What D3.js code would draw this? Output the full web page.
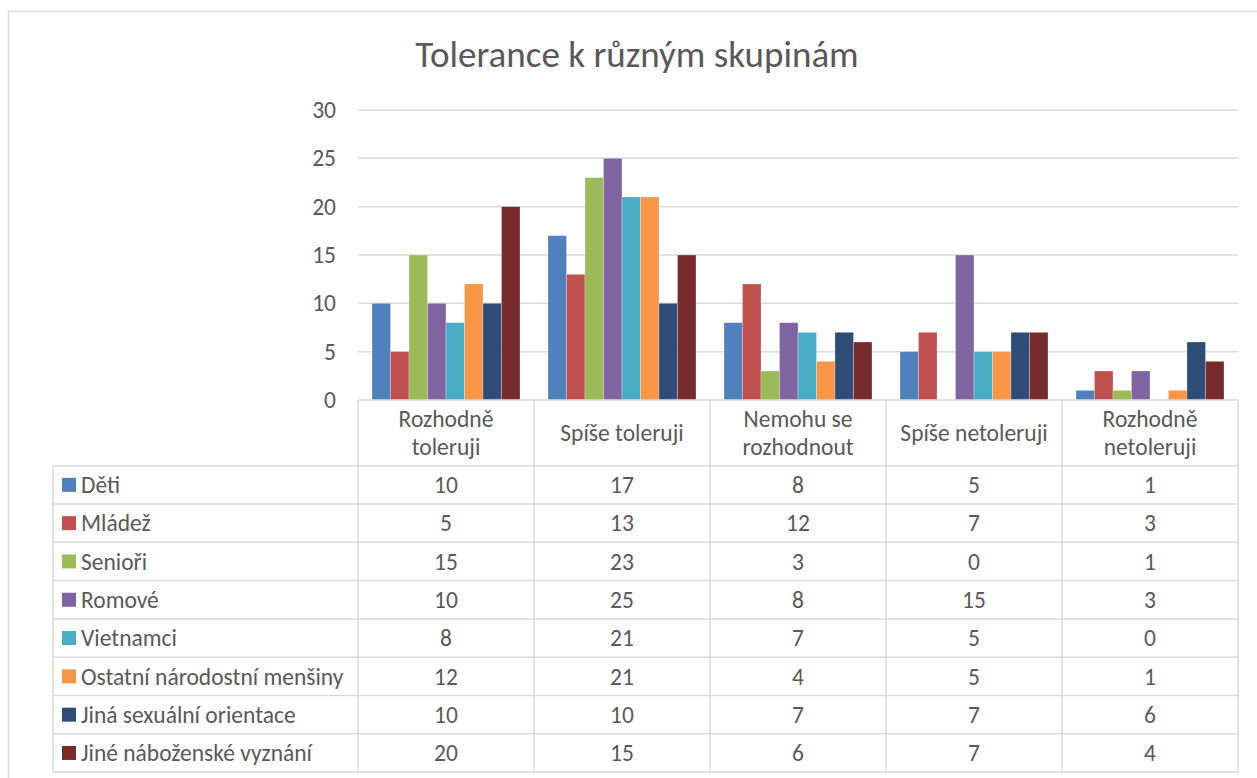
<!DOCTYPE html>
<html>
<head>
<meta charset="utf-8">
<script src="https://cdn.jsdelivr.net/npm/d3@7"></script>
<style>
  html, body { margin: 0; padding: 0; background: #fff; }
  svg { display: block; }
  text { font-family: Carlito, Calibri, Lato, "Noto Sans", sans-serif; fill: #595959; }
</style>
</head>
<body>
<script>
// Answer categories (x axis / table columns)
const categories = ["Rozhodně toleruji", "Spíše toleruji", "Nemohu se rozhodnout", "Spíše netoleruji", "Rozhodně netoleruji"];
// Header labels split into lines as drawn in the table header
const categoryLines = [["Rozhodně", "toleruji"], ["Spíše toleruji"], ["Nemohu se", "rozhodnout"], ["Spíše netoleruji"], ["Rozhodně", "netoleruji"]];

// Groups asked about (series)
const seriesNames = ["Děti", "Mládež", "Senioři", "Romové", "Vietnamci", "Ostatní národostní menšiny", "Jiná sexuální orientace", "Jiné náboženské vyznání"];

// Counts per group, one value per category
const deti       = [10, 17, 8, 5, 1];
const mladez     = [5, 13, 12, 7, 3];
const seniori    = [15, 23, 3, 0, 1];
const romove     = [10, 25, 8, 15, 3];
const vietnamci  = [8, 21, 7, 5, 0];
const ostatni    = [12, 21, 4, 5, 1];
const sexualni   = [10, 10, 7, 7, 6];
const nabozenske = [20, 15, 6, 7, 4];
const seriesValues = [deti, mladez, seniori, romove, vietnamci, ostatni, sexualni, nabozenske];

const yTicks = [0, 5, 10, 15, 20, 25, 30];
const colors = ["#4F81BD", "#C0504D", "#9BBB59", "#8064A2", "#4BACC6", "#F79646", "#2C4D75", "#772C2A"];
const titleText = "Tolerance k různým skupinám";

const W = 1257, H = 778;
const gridColor = "#d9d9d9";
const bodySize = "23.5px";

const svg = d3.select("body").append("svg").attr("width", W).attr("height", H);

// chart frame
svg.append("rect").attr("x", 8.5).attr("y", 11.5).attr("width", W + 20).attr("height", H + 20)
  .attr("fill", "none").attr("stroke", gridColor).attr("stroke-width", 1.5);

// title
svg.append("text").attr("x", 637).attr("y", 67).attr("text-anchor", "middle")
  .style("font-size", "37px").text(titleText);

const plotLeft = 358, plotRight = 1238, plotTop = 110, plotBottom = 400;

const x = d3.scaleBand().domain(categories).range([plotLeft, plotRight]).paddingInner(0).paddingOuter(0);
const xs = d3.scaleBand().domain(seriesNames).range([0, x.bandwidth()]).paddingInner(0).paddingOuter(0.757);
const y = d3.scaleLinear().domain([0, 30]).range([plotBottom, plotTop]);

// gridlines
svg.append("g").selectAll("line").data(yTicks.filter(t => t > 0)).join("line")
  .attr("x1", plotLeft).attr("x2", plotRight)
  .attr("y1", d => y(d)).attr("y2", d => y(d))
  .attr("stroke", gridColor).attr("stroke-width", 1.5);

// y axis labels
const yAxis = d3.axisLeft(y).tickValues(yTicks).tickSize(0).tickPadding(22);
const gy = svg.append("g").attr("transform", `translate(${plotLeft},0)`).call(yAxis);
gy.select(".domain").remove();
gy.selectAll("text").style("font-size", bodySize).attr("fill", "#595959")
  .style("font-family", "Carlito, Calibri, Lato, sans-serif");

// bars
const groups = svg.append("g").selectAll("g").data(categories).join("g")
  .attr("transform", d => `translate(${x(d)},0)`);
groups.selectAll("rect").data((c, ci) => seriesNames.map((s, si) => ({ s, si, v: seriesValues[si][ci] })))
  .join("rect")
  .attr("x", d => xs(d.s)).attr("width", xs.bandwidth())
  .attr("y", d => y(d.v)).attr("height", d => y(0) - y(d.v))
  .attr("fill", d => colors[d.si])
  .attr("stroke", "#ffffff").attr("stroke-opacity", 0.35).attr("stroke-width", 0.75);

// data table
const headerBottom = 465.7, rowH = 38.3, tableLeft = 53;
const tableBottom = headerBottom + rowH * seriesNames.length;
const tg = svg.append("g");
const line = (x1, y1, x2, y2) => tg.append("line").attr("x1", x1).attr("y1", y1).attr("x2", x2).attr("y2", y2)
  .attr("stroke", gridColor).attr("stroke-width", 1.5);

// horizontal rules
line(plotLeft, plotBottom, plotRight, plotBottom);
for (let i = 0; i <= seriesNames.length; i++) {
  line(tableLeft, headerBottom + i * rowH, plotRight, headerBottom + i * rowH);
}
// vertical rules
line(tableLeft, headerBottom, tableLeft, tableBottom);
categories.forEach(c => line(x(c), plotBottom, x(c), tableBottom));
line(plotRight, plotBottom, plotRight, tableBottom);

// header labels
categories.forEach((c, ci) => {
  const lines = categoryLines[ci];
  const cx = x(c) + x.bandwidth() / 2;
  const midY = (plotBottom + headerBottom) / 2;
  const lh = 28.5;
  const t = tg.append("text").attr("text-anchor", "middle").style("font-size", bodySize);
  lines.forEach((l, li) => {
    t.append("tspan").attr("x", cx)
      .attr("y", midY + (li - (lines.length - 1) / 2) * lh)
      .attr("dy", "0.35em").text(l);
  });
});

// row legend + values
seriesNames.forEach((s, si) => {
  const cy = headerBottom + si * rowH + rowH / 2;
  tg.append("rect").attr("x", 62).attr("y", cy - 7).attr("width", 14).attr("height", 14).attr("fill", colors[si]);
  tg.append("text").attr("x", 81).attr("y", cy).attr("dy", "0.35em").style("font-size", bodySize).text(s);
  categories.forEach((c, ci) => {
    tg.append("text").attr("x", x(c) + x.bandwidth() / 2).attr("y", cy).attr("dy", "0.35em")
      .attr("text-anchor", "middle").style("font-size", bodySize).text(seriesValues[si][ci]);
  });
});
</script>
</body>
</html>
